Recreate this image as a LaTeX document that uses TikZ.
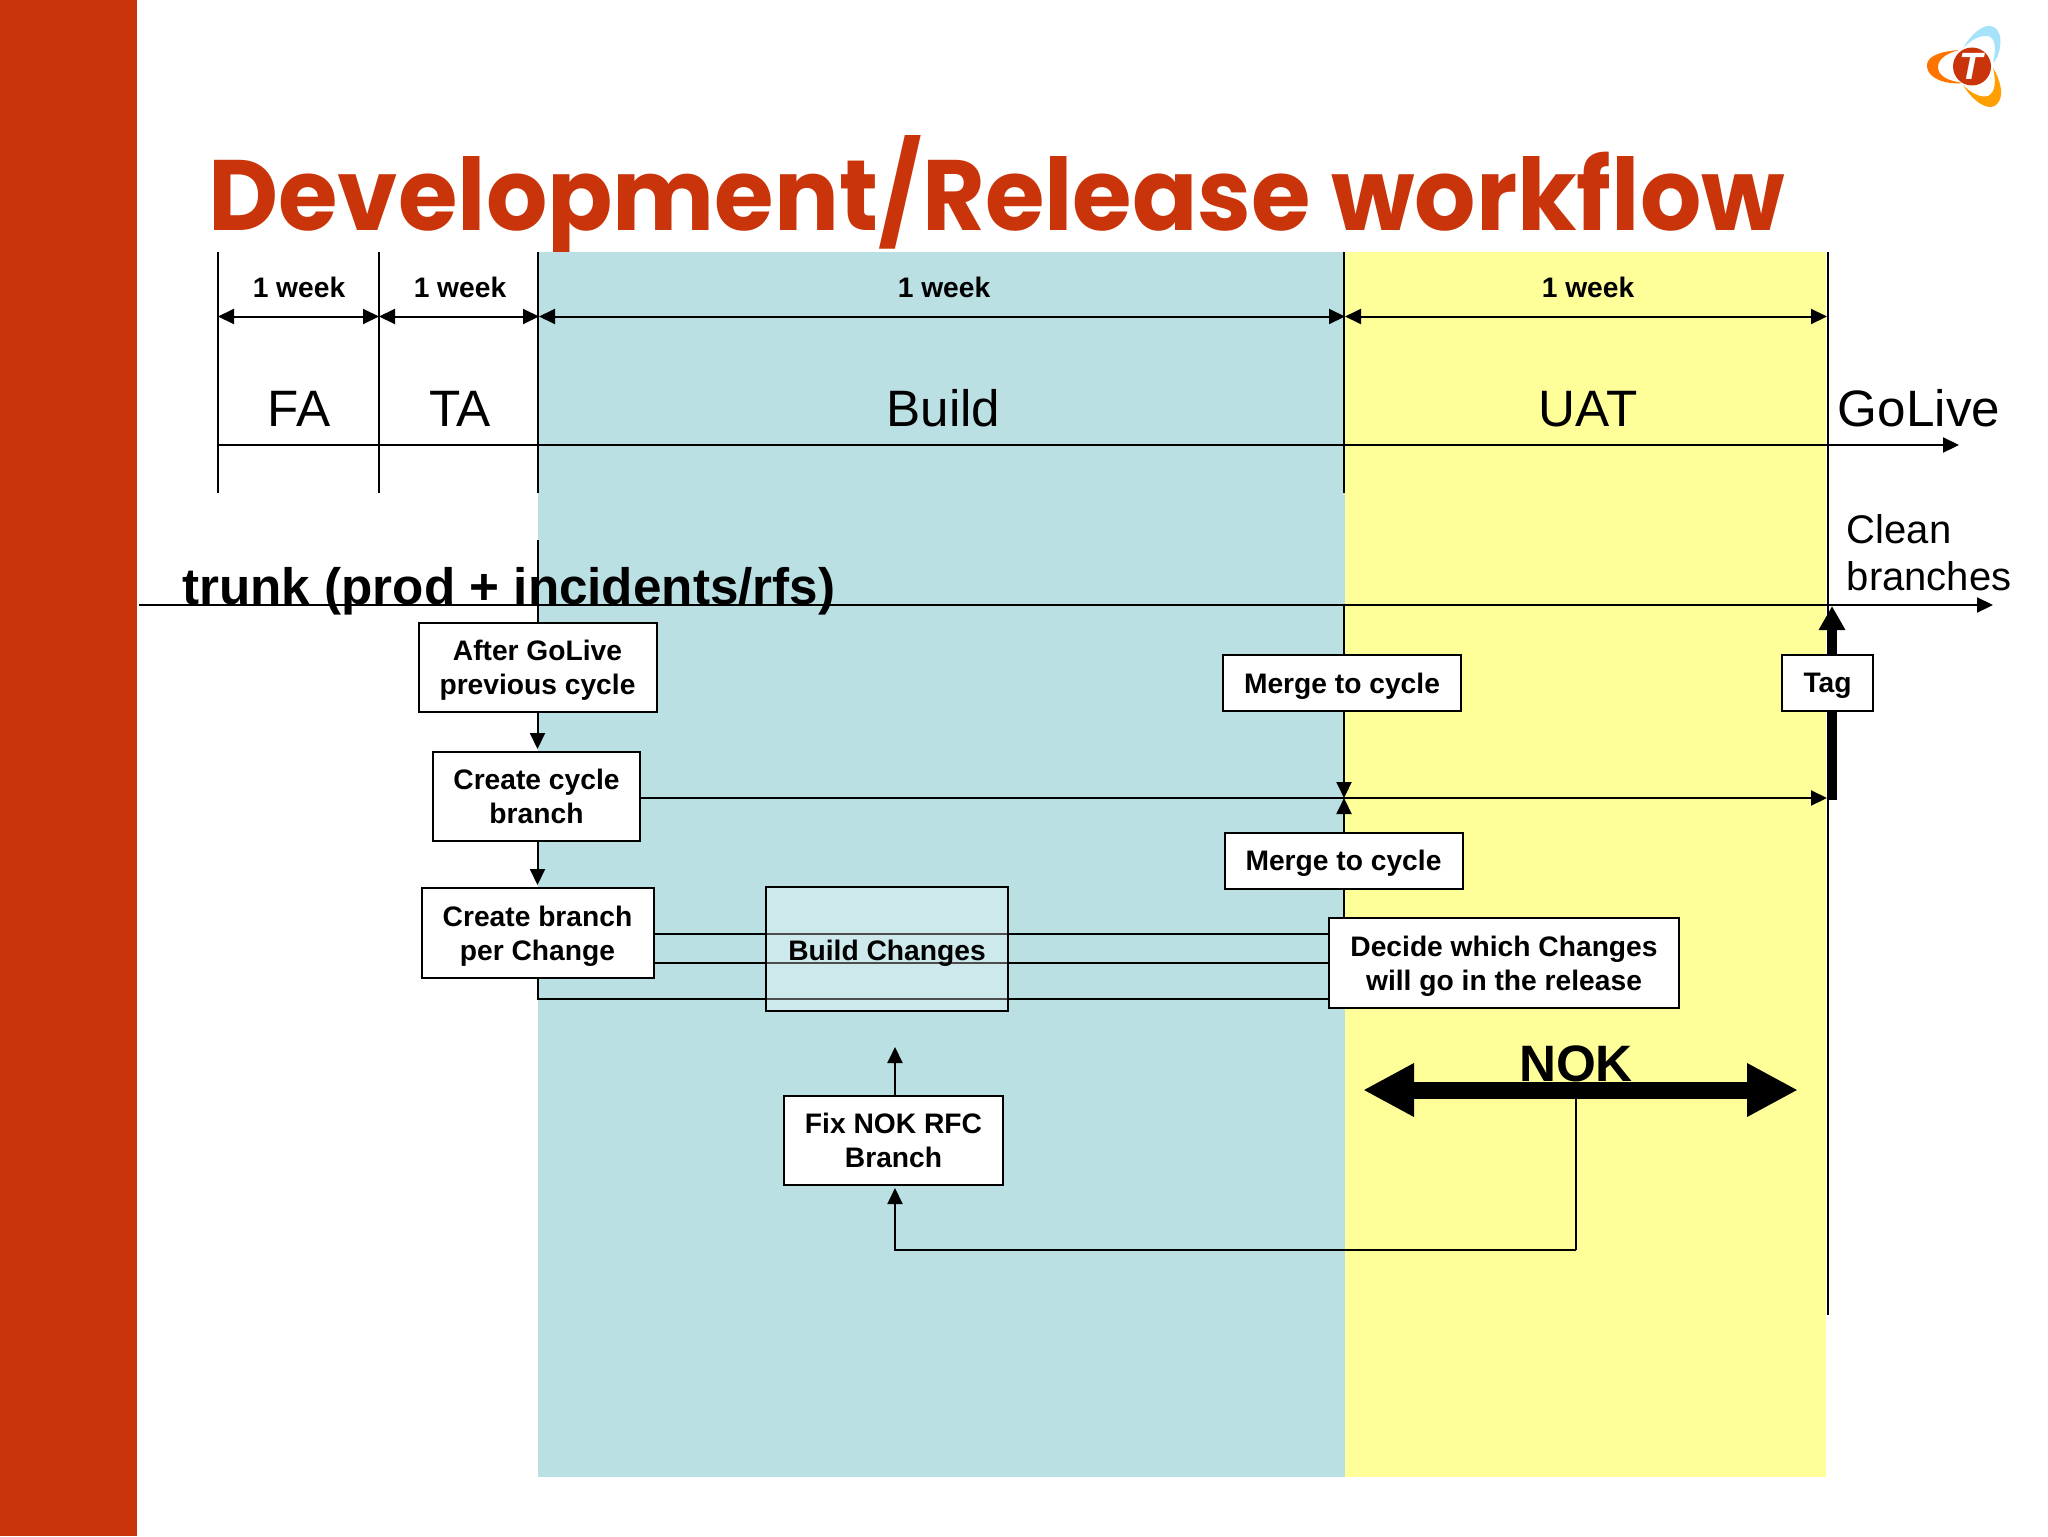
\documentclass[tikz,border=0pt]{standalone}
\usepackage{fontspec}
\setmainfont{Liberation Sans}
\newfontfamily\titlefont{Poppins}[BoldFont={Poppins Bold},FakeStretch=0.964]
\usetikzlibrary{arrows.meta}
\definecolor{slidered}{HTML}{C9340A}
\definecolor{buildblue}{HTML}{BAE0E3}
\definecolor{uatyellow}{HTML}{FFFF99}
\tikzset{
  line/.style={line width=1pt, black},
  conn/.style={line, -{Triangle[length=8pt,width=7.5pt]}},
  both/.style={line, {Triangle[length=8pt,width=7.5pt]}-{Triangle[length=8pt,width=7.5pt]}},
  box/.style={draw, line width=1pt, fill=white, align=center, inner sep=0pt, text depth=-2pt, font=\fontsize{14.1}{17}\selectfont\bfseries},
  week/.style={anchor=base, font=\fontsize{14.1}{17}\selectfont\bfseries},
  phase/.style={anchor=base, font=\fontsize{25.6}{30}\selectfont},
}
\begin{document}
\begin{tikzpicture}[x=0.5pt, y=-0.5pt]
\useasboundingbox (0,0) rectangle (2048,1536);
\fill[slidered] (0,0) rectangle (137,1536);
\node[anchor=base west, inner sep=0pt, text=slidered, font=\titlefont\fontsize{50}{60}\selectfont\bfseries] (title) at (208,230) {Development/Release workflow};
\fill[buildblue] (538,252) rectangle (1345,1477);
\fill[uatyellow] (1345,252) rectangle (1826,1477);
\fill[orange!90!red] (1959,50) .. controls (1935,52) and (1926,58) .. (1927,67) .. controls (1928,78) and (1945,85) .. (1963,83) .. controls (1948,81) and (1938,76) .. (1938,67) .. controls (1938,59) and (1947,53) .. (1959,50) -- cycle;
\fill[cyan!35] (1963,48) .. controls (1972,33) and (1983,25) .. (1990,26) .. controls (1998,27) and (2002,36) .. (2000,47) .. controls (1999,55) and (1996,60) .. (1993,63) .. controls (1996,50) and (1996,38) .. (1988,36) .. controls (1980,35) and (1971,40) .. (1963,48) -- cycle;
\fill[orange!75!yellow] (1963,85) .. controls (1972,100) and (1983,107) .. (1990,107) .. controls (1998,107) and (2002,98) .. (2001,90) .. controls (2000,82) and (1997,74) .. (1993,68) .. controls (1996,80) and (1996,92) .. (1988,96) .. controls (1980,98) and (1971,93) .. (1963,85) -- cycle;
\fill[slidered] (1972,66.5) circle (9.5pt);
\node[text=white, inner sep=0pt, font=\fontsize{19}{19}\selectfont\bfseries\itshape] (logot) at (1971,66) {T};
\coordinate (v1t) at (218,252);
\coordinate (v1b) at (218,493);
\coordinate (v2t) at (379,252);
\coordinate (v2b) at (379,493);
\coordinate (v3t) at (538,252);
\coordinate (v3b) at (538,493);
\coordinate (v4t) at (1344,252);
\coordinate (v4b) at (1344,493);
\coordinate (v5t) at (1828,252);
\coordinate (v5b) at (1828,1315);
\coordinate (a1) at (218,316.5);
\coordinate (a2) at (379,316.5);
\coordinate (a3) at (539,316.5);
\coordinate (a4) at (1345,316.5);
\coordinate (a5) at (1827,316.5);
\coordinate (tl) at (218,445);
\coordinate (tr) at (1959,445);
\coordinate (trl) at (139,605);
\coordinate (trr) at (1993,605);
\coordinate (bt) at (537.5,540);
\coordinate (mt) at (1344,605);
\coordinate (mc) at (1344,798);
\coordinate (cyc) at (1827,798);
\coordinate (tagb) at (1832,800);
\coordinate (tagt) at (1832,606);
\coordinate (nl) at (1363,1090);
\coordinate (nr) at (1798,1090);
\coordinate (ne) at (1576,1090);
\coordinate (nb) at (1576,1250);
\coordinate (fb) at (895,1250);
\coordinate (ft) at (895,1047);
\coordinate (c1) at (653.5,933.5);
\coordinate (c2) at (653.5,963);
\coordinate (c3) at (537.5,999);
\coordinate (d1) at (1329,933.5);
\coordinate (d2) at (1329,963);
\coordinate (d3) at (1329,999);
\draw[line] (v1t) -- (v1b);
\draw[line] (v2t) -- (v2b);
\draw[line] (v3t) -- (v3b);
\draw[line] (v4t) -- (v4b);
\draw[line] (v5t) -- (v5b);
\draw[both] (a1) -- (a2);
\draw[both] (a2) -- (a3);
\draw[both] (a3) -- (a4);
\draw[both] (a4) -- (a5);
\draw[conn] (tl) -- (tr);
\node[week] (w1) at (299,297) {1 week};
\node[week] (w2) at (460,297) {1 week};
\node[week] (w3) at (944,297) {1 week};
\node[week] (w4) at (1588,297) {1 week};
\node[phase] (fa) at (299,426) {FA};
\node[phase] (ta) at (460,426) {TA};
\node[phase] (build) at (943.5,426) {Build};
\node[phase] (uat) at (1588,426) {UAT};
\node[phase] (golive) at (1919,426) {GoLive};
\node[anchor=base west, inner sep=0pt, font=\fontsize{25.6}{30}\selectfont\bfseries] (trunk) at (182,604) {trunk (prod + incidents/rfs)};
\node[anchor=base west, inner sep=0pt, align=left, font=\fontsize{20}{23.5}\selectfont] (clean) at (1846.5,590) {Clean\\branches};
\draw[conn] (trl) -- (trr);
\draw[conn] (nb) -- (fb) -- (895,1188);
\draw[line] (ne) -- (nb);
\draw[line, line width=4.5pt, -{Triangle[length=12pt,width=12.5pt]}] (tagb) -- (tagt);
\draw[line, line width=8.5pt, {Triangle[length=25.5pt,width=25pt]}-{Triangle[length=25.5pt,width=25pt]}] (nl) -- (nr);
\node[anchor=base, inner sep=0pt, font=\fontsize{25.6}{30}\selectfont\bfseries] (nok) at (1576,1081) {NOK};
\node[box, minimum width=119pt, minimum height=44.5pt] (after) at (537.5,667.5) {After GoLive\\previous cycle};
\node[box, minimum width=103.5pt, minimum height=44.5pt] (cycle) at (536.5,796.5) {Create cycle\\branch};
\node[box, minimum width=116pt, minimum height=45pt] (perchange) at (537.5,933) {Create branch\\per Change};
\node[box, minimum width=109.5pt, minimum height=44.5pt] (fix) at (893.5,1140.5) {Fix NOK RFC\\Branch};
\node[box, minimum width=119pt, minimum height=28pt] (merge1) at (1342,683) {Merge to cycle};
\node[box, minimum width=119pt, minimum height=28pt] (merge2) at (1343.5,860.5) {Merge to cycle};
\node[box, minimum width=175pt, minimum height=45pt] (decide) at (1504,963) {Decide which Changes\\will go in the release};
\node[box, minimum width=45.5pt, minimum height=28pt] (tag) at (1827.5,683) {Tag};
\draw[line] (bt) -- (after);
\draw[conn, shorten >=1pt] (after.south -| bt) -- (cycle.north -| bt);
\draw[conn, shorten >=1pt] (cycle.south -| bt) -- (perchange.north -| bt);
\draw[conn] (cycle.east |- cyc) -- (cyc);
\draw[line] (mt) -- (merge1.north -| mt);
\draw[conn] (merge1.south -| mt) -- (mc);
\draw[conn] (merge2.north -| mt) -- (mc);
\draw[line] (decide.north -| mt) -- (merge2.south -| mt);
\draw[line] (c1) -- (d1);
\draw[line] (c2) -- (d2);
\draw[line] (perchange.south -| c3) -- (c3) -- (d3);
\draw[conn] (fix.north -| ft) -- (ft);
\node[draw, line width=1pt, fill=white, fill opacity=0.3, minimum width=121pt, minimum height=62pt, inner sep=0pt] (changes) at (887,949) {};
\node[inner sep=0pt, font=\fontsize{14.1}{17}\selectfont\bfseries] (changest) at (887,953.5) {Build Changes};
\end{tikzpicture}
\end{document}
